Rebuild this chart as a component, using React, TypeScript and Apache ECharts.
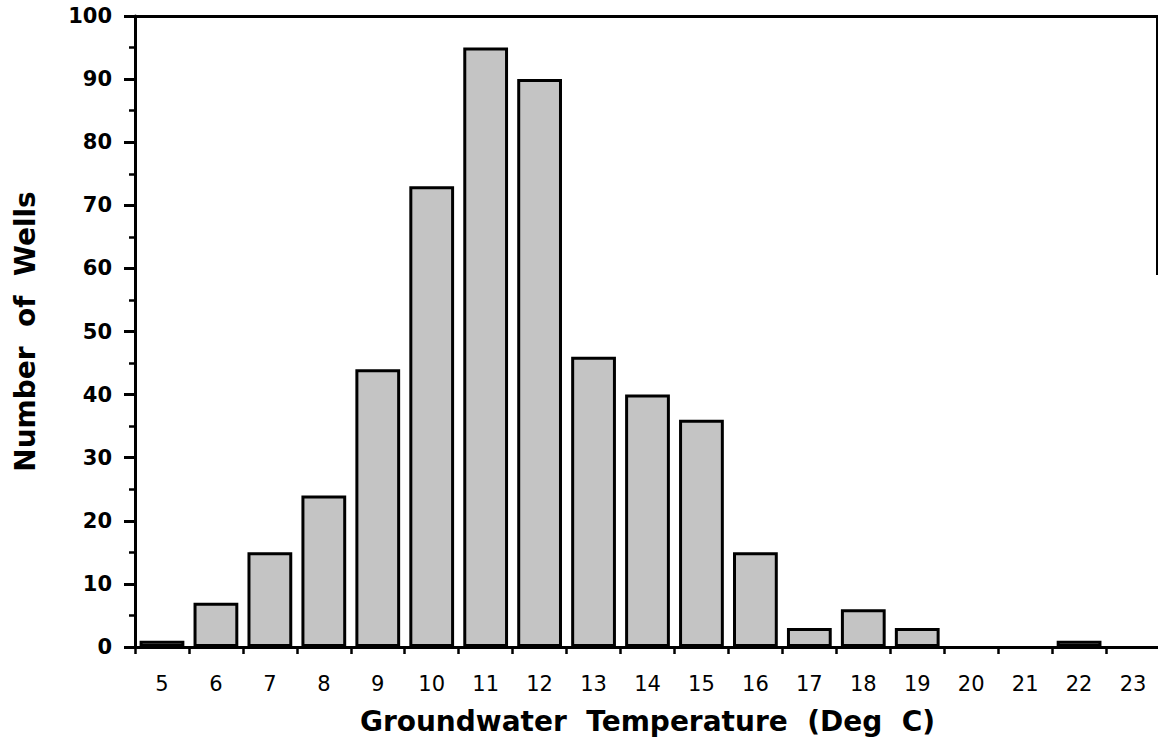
import React, { useEffect, useRef } from "react";
import * as echarts from "echarts";

const temperatures = ["5", "6", "7", "8", "9", "10", "11", "12", "13", "14", "15", "16", "17", "18", "19", "20", "21", "22", "23"];
const wellCounts = [1, 7, 15, 24, 44, 73, 95, 90, 46, 40, 36, 15, 3, 6, 3, 0, 0, 1, 0];
const xTitle = "Groundwater  Temperature  (Deg  C)";
const yTitle = "Number  of  Wells";

const FONT = '"DejaVu Sans", "Liberation Sans", Arial, sans-serif';

export default function App() {
  const ref = useRef<HTMLDivElement>(null);
  useEffect(() => {
    if (!ref.current) return;
    const chart = echarts.init(ref.current, null, { renderer: "svg" });
    chart.setOption({
      animation: false,
      backgroundColor: "#ffffff",
      grid: { left: 135, top: 16, width: 1025, height: 631, outerBoundsMode: "none", containLabel: false },
      xAxis: [
        {
          type: "category",
          data: temperatures,
          position: "bottom",
          boundaryGap: true,
          axisLine: { show: true, lineStyle: { color: "#000", width: 3 } },
          axisTick: { show: true, length: 7, inside: false, alignWithLabel: false, lineStyle: { color: "#000", width: 2.5 } },
          axisLabel: { color: "#000", fontFamily: FONT, fontSize: 21, margin: 26, interval: 0 },
          splitLine: { show: false },
          name: xTitle,
          nameLocation: "middle",
          nameGap: 60,
          nameTextStyle: { color: "#000", fontFamily: FONT, fontSize: 28, fontWeight: "bold" },
        },
        {
          type: "category",
          data: temperatures,
          position: "top",
          axisLine: { show: true, lineStyle: { color: "#000", width: 3 } },
          axisTick: { show: false },
          axisLabel: { show: false },
          splitLine: { show: false },
        },
      ],
      yAxis: {
        type: "value",
        min: 0,
        max: 100,
        interval: 10,
        axisLine: { show: true, lineStyle: { color: "#000", width: 3 } },
        axisTick: { show: true, length: 11, inside: false, lineStyle: { color: "#000", width: 3 } },
        minorTick: { show: true, splitNumber: 2, length: 6, lineStyle: { color: "#000", width: 2.5 } },
        axisLabel: { color: "#000", fontFamily: FONT, fontSize: 21, fontWeight: "bold", margin: 23 },
        splitLine: { show: false },
        name: yTitle,
        nameLocation: "middle",
        nameGap: 96,
        nameTextStyle: { color: "#000", fontFamily: FONT, fontSize: 28, fontWeight: "bold" },
      },
      series: [
        {
          type: "bar",
          data: wellCounts.map((v) => (v === 0 ? null : v)),
          xAxisIndex: 0,
          barCategoryGap: "17%",
          itemStyle: { color: "#c4c4c4", borderColor: "#000", borderWidth: 3 },
        },
      ],
      graphic: [
        {
          type: "line",
          shape: { x1: 1157, y1: 16, x2: 1157, y2: 275 },
          style: { stroke: "#000", lineWidth: 2 },
          silent: true,
        },
      ],
    });
    return () => chart.dispose();
  }, []);
  return <div ref={ref} style={{ position: "fixed", left: 0, top: 0, width: 1158, height: 743 }} />;
}
